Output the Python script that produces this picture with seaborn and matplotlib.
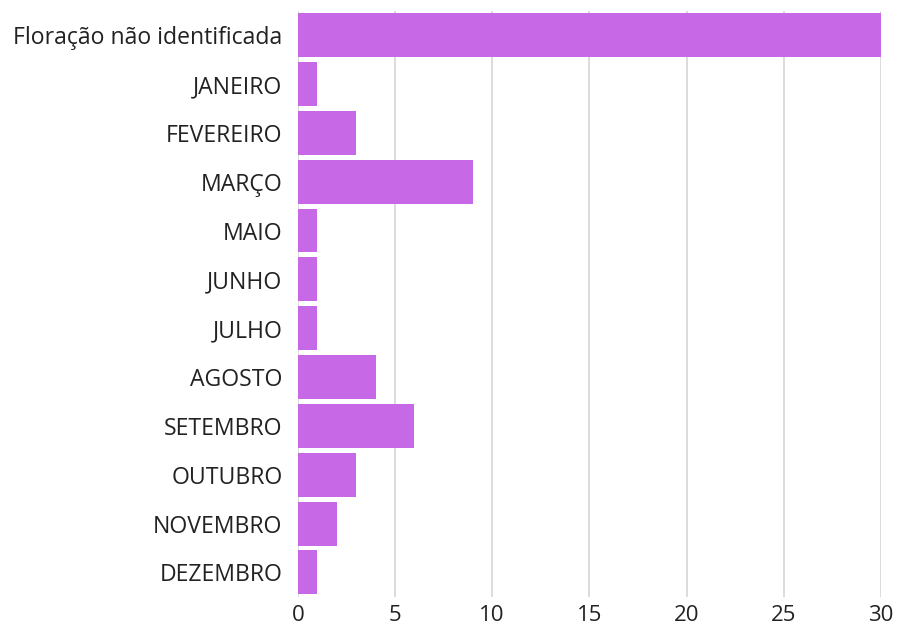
import pandas as pd
import matplotlib.pyplot as plt
import seaborn as sns

meses = ["Floração não identificada", "JANEIRO", "FEVEREIRO", "MARÇO", "MAIO", "JUNHO",
         "JULHO", "AGOSTO", "SETEMBRO", "OUTUBRO", "NOVEMBRO", "DEZEMBRO"]
contagem = [30, 1, 3, 9, 1, 1, 1, 4, 6, 3, 2, 1]
xticks = [0, 5, 10, 15, 20, 25, 30]

df = pd.DataFrame({"mes": meses, "n": contagem})

sns.set_theme(style="white")
plt.rcParams['font.family'] = ['Open Sans', 'DejaVu Sans']

fig = plt.figure(figsize=(8.97, 6.27), dpi=100)
ax = fig.add_axes([0.332, 0.048, 0.650, 0.935])

sns.barplot(data=df, x="n", y="mes", color="#c768e6", saturation=1, width=0.9,
            edgecolor="none", ax=ax, zorder=3)

ax.set_xlim(0, 30)
ax.set_xticks(xticks)
ax.grid(axis="x", color="#d9d9d9", linewidth=1.3, zorder=0)
ax.set_axisbelow(True)
for s in ax.spines.values():
    s.set_visible(False)
ax.tick_params(axis="y", length=0, labelsize=16.6, colors="#222222", pad=11)
ax.tick_params(axis="x", length=0, labelsize=16, colors="#222222", pad=6)
ax.set_xlabel("")
ax.set_ylabel("")

fig.savefig("out.png", dpi=100)
